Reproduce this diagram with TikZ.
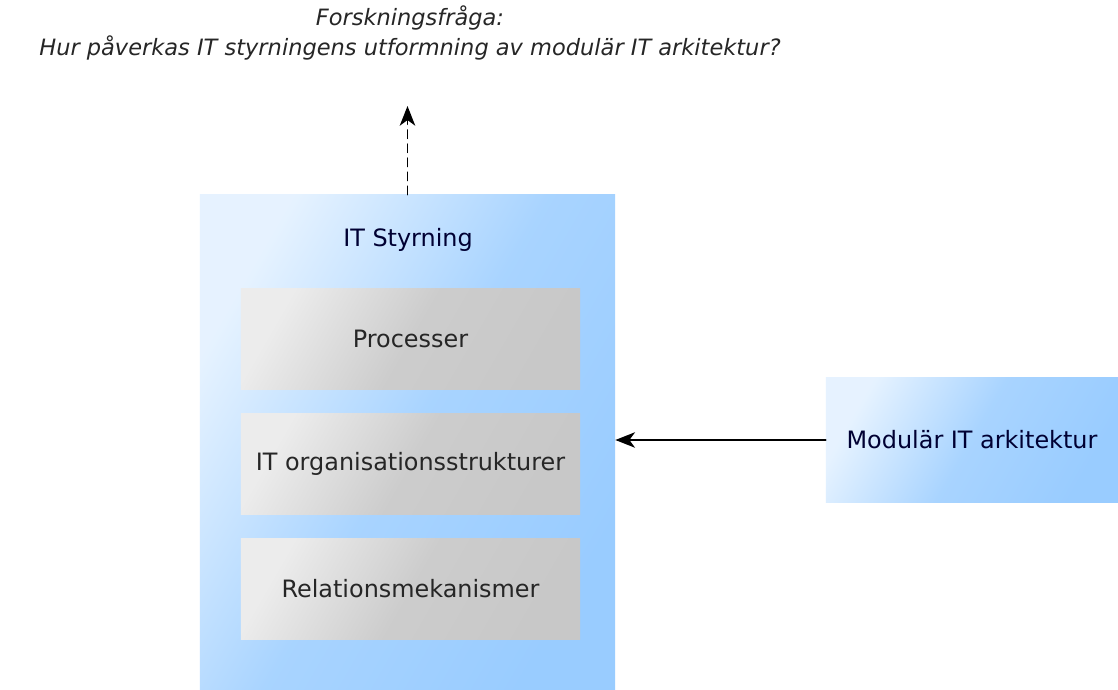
\documentclass[tikz,border=0pt]{standalone}
\usepackage{fontspec}
\setmainfont{DejaVu Sans}
\usetikzlibrary{positioning,arrows.meta}
\definecolor{govblue}{RGB}{153,204,255}
\definecolor{partgray}{RGB}{200,200,200}
\tikzset{
  bluebox/.style={inner sep=0pt,left color=govblue!25!white,right color=govblue,middle color=govblue!85!white,shading angle=60},
  graybox/.style={inner sep=0pt,minimum width=8.475cm,minimum height=2.5cm,left color=partgray!35!white,right color=partgray,middle color=partgray!92!white,shading angle=60,text=black!85},
}
\begin{document}
\begin{tikzpicture}[x=0.025cm,y=-0.025cm,font=\fontsize{17}{20}\selectfont,line join=round,line cap=round,>={Stealth[length=14pt,width=11pt,inset=4pt]}]
\useasboundingbox[fill=white] (0,0) rectangle (1118,690);
% title
\node[align=center,font=\fontsize{16}{21.5}\selectfont\itshape,text=black!85] (title) at (410,33)
  {Forskningsfråga:\\Hur påverkas IT styrningens utformning av modulär IT arkitektur?};
\coordinate (q) at (407.5,106);
% boxes
\node[bluebox,minimum width=10.375cm,minimum height=12.375cm] (gov) at (407.5,442.5) {};
\node[text=black!80!blue] (lbl) at (408,240) {IT Styrning};
\foreach \n/\y/\t in {proc/339/Processer,org/464/IT organisationsstrukturer,rel/589/Relationsmekanismer}
\node[graybox] (\n) at (410.5,\y) {\t};
\node[bluebox,minimum width=7.3cm,minimum height=3.1cm,text=black!80!blue] (mod) at (972,440) {Modulär IT arkitektur};
% arrows
\draw[->,dash pattern=on 6pt off 4pt,line width=1.1pt] (gov.north) -- (q);
\draw[->,line width=1.2pt] (mod.west) -- (mod.west -| gov.east);
\end{tikzpicture}
\end{document}
